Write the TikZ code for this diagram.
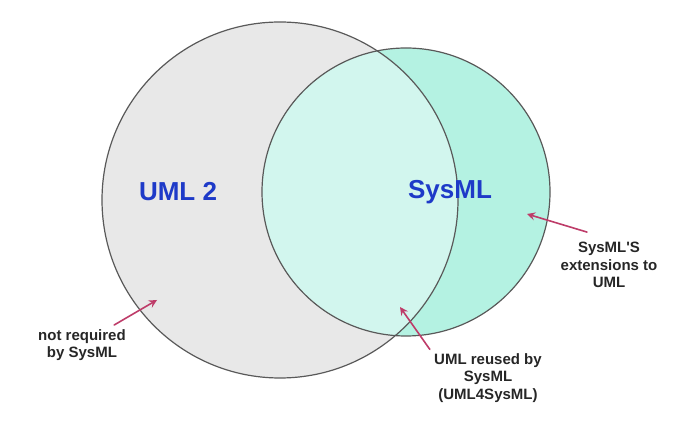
\documentclass[tikz,border=0pt]{standalone}
\usepackage{fontspec}
\setmainfont{Liberation Sans}
\definecolor{umlgray}{HTML}{E8E8E8}
\definecolor{sysgreen}{HTML}{B4F2E2}
\definecolor{bothgreen}{HTML}{D2F6EE}
\definecolor{labelblue}{RGB}{30,58,200}
\definecolor{pointer}{RGB}{190,60,105}
\tikzset{
	setname/.style={font=\fontsize{13}{15}\selectfont\bfseries,text=labelblue},
	remark/.style={font=\fontsize{7.5}{8.6}\selectfont\bfseries,text=black!85,align=center,inner sep=1pt},
	pointto/.style={->,draw=pointer,line width=0.8pt}
}
\begin{document}
\begin{tikzpicture}[line cap=round,>=stealth,x=0.5pt,y=-0.5pt]
		\useasboundingbox (0,0) rectangle (695,426);
		% the two sets
		\fill[umlgray] (280,200) circle (178);
		\fill[sysgreen] (406,192) circle (144);
		\begin{scope}
			\clip (280,200) circle (178);
			\fill[bothgreen] (406,192) circle (144);
		\end{scope}
		\draw[black!65,line width=0.6pt] (280,200) circle (178);
		\draw[black!65,line width=0.6pt] (406,192) circle (144);
		\node[setname] (uml) at (178,192) {UML 2};
		\node[setname] (sysml) at (450,192) {SysML};
		% remarks
		\node[remark] (notreq) at (82,345) {not required\\by SysML};
		\node[remark] (reused) at (488,378) {UML reused by\\SysML\\(UML4SysML)};
		\node[remark] (ext) at (609,265) {SysML\textquotesingle S\\extensions to\\UML};
		\coordinate (notreqtip) at (157,300);
		\coordinate (reusedtip) at (400,307);
		\coordinate (exttip) at (527,214);
		\draw[pointto] ([xshift=-7pt,yshift=1pt]notreq.north east) -- (notreqtip);
		\draw[pointto] ([xshift=-1pt,yshift=1pt]reused.north west) -- (reusedtip);
		\draw[pointto] ([xshift=-11pt,yshift=4pt]ext.north) -- (exttip);
	\end{tikzpicture}
\end{document}
